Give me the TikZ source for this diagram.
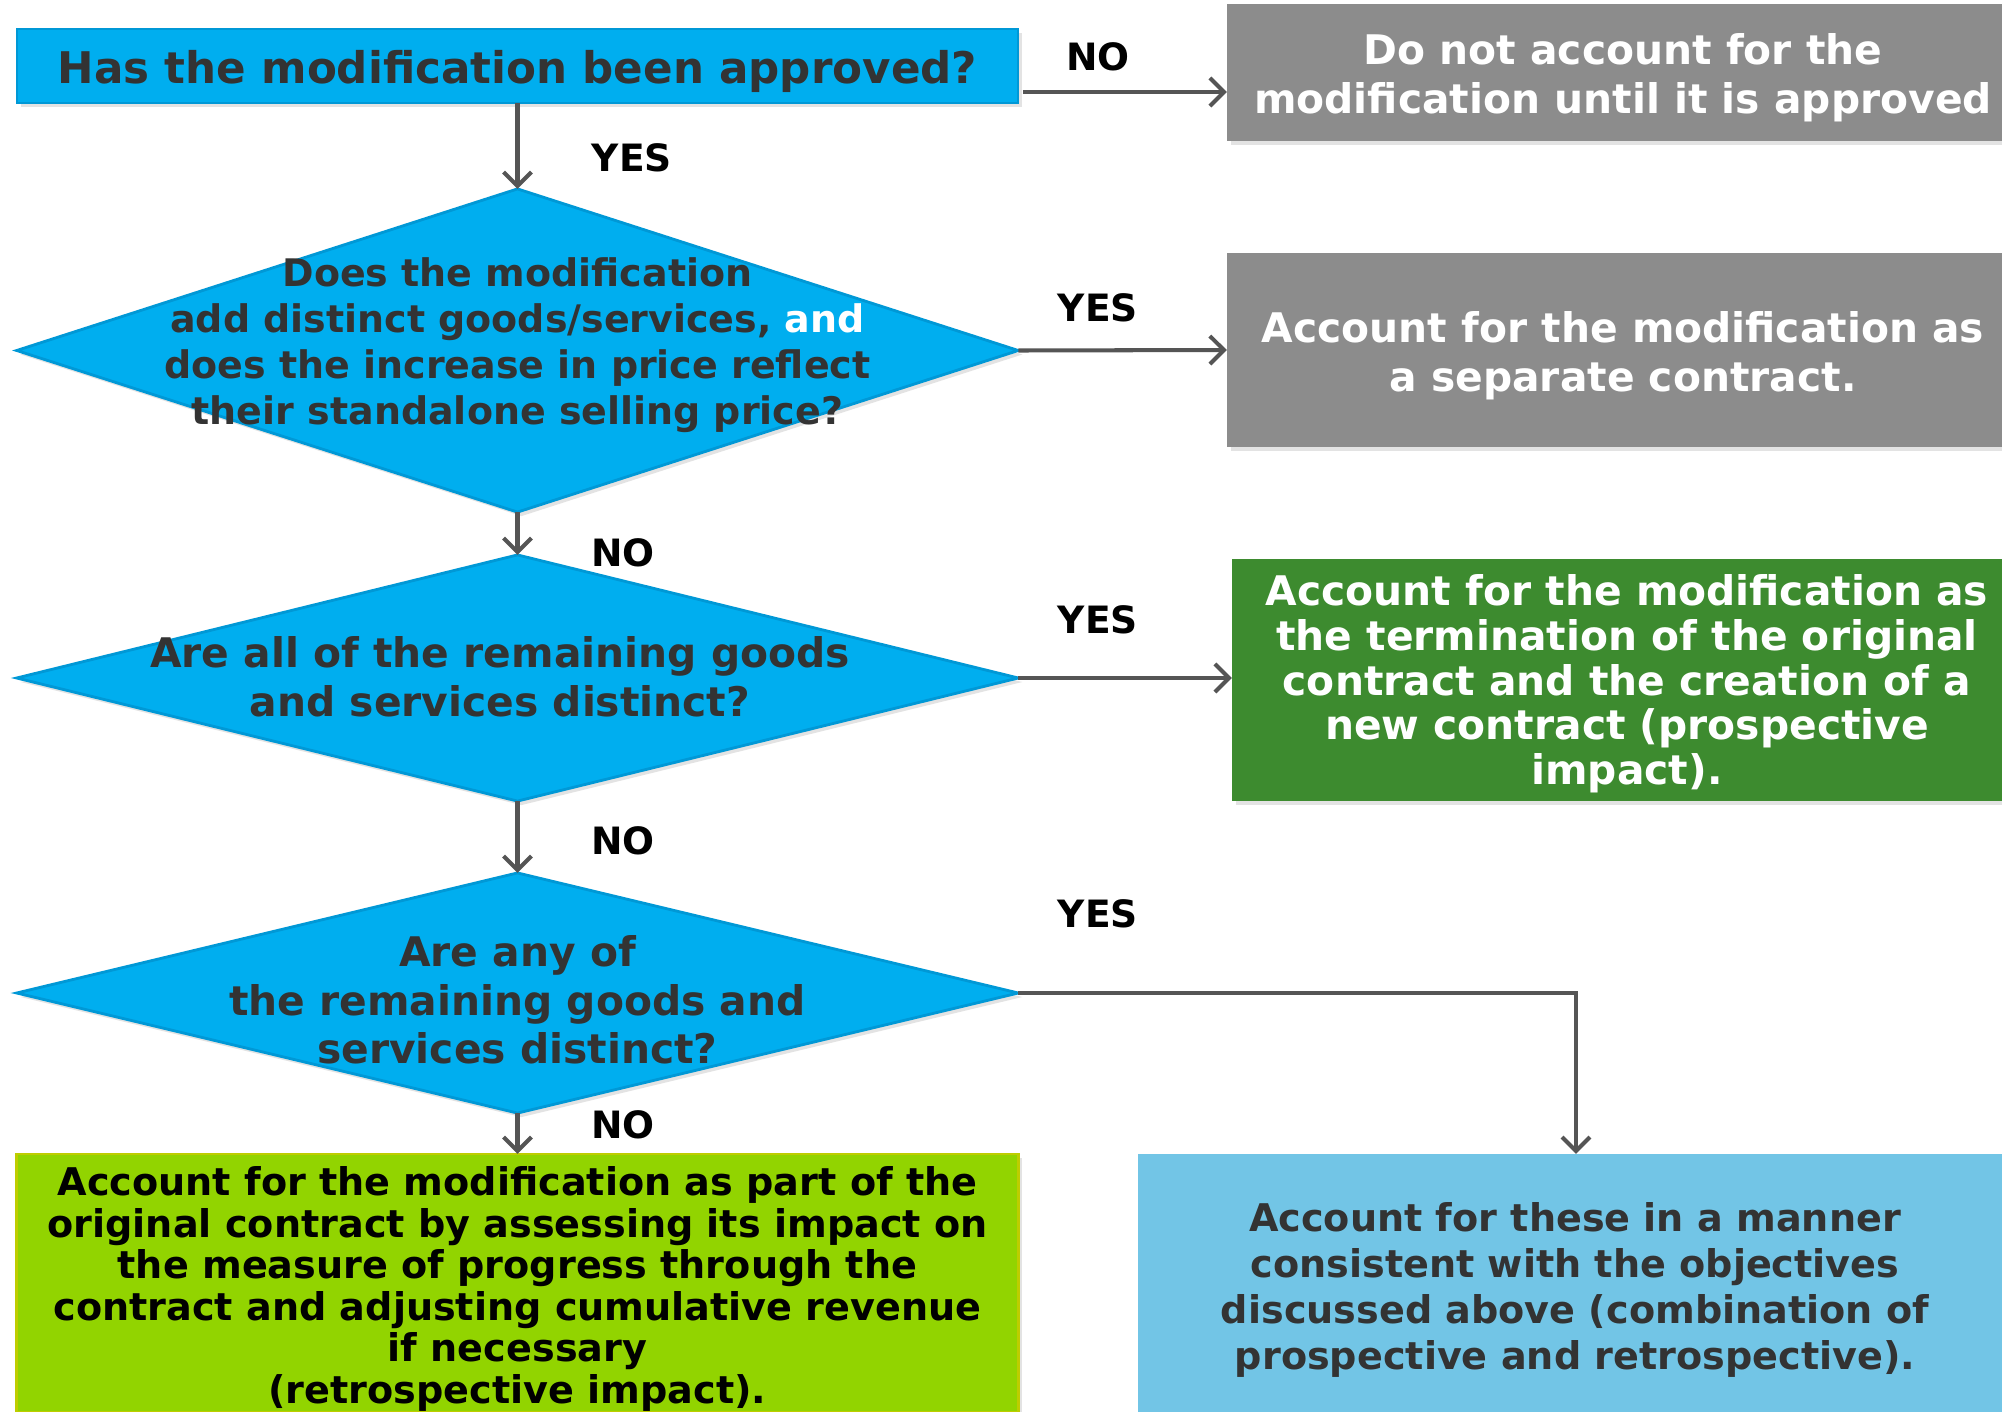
\documentclass[tikz,border=0pt]{standalone}
\usepackage{fontspec}
\setmainfont{DejaVu Sans}
\usetikzlibrary{shapes.geometric, arrows.meta, calc, shadows}

\definecolor{qcyan}{RGB}{0,174,239}
\definecolor{qedge}{RGB}{0,152,214}
\definecolor{boxgray}{RGB}{140,140,140}
\definecolor{boxgreen}{RGB}{61,139,47}
\definecolor{boxlime}{RGB}{146,212,0}
\definecolor{limeedge}{RGB}{190,205,0}
\definecolor{boxsky}{RGB}{114,197,230}
\definecolor{txtdark}{RGB}{51,51,51}
\definecolor{arrgray}{RGB}{85,85,85}

\newcommand{\setfs}[2]{\fontsize{#1}{#2}\selectfont\bfseries}

\tikzset{
  softshadow/.style={drop shadow={opacity=0.22, shadow xshift=0.04cm, shadow yshift=-0.04cm}},
  qbox/.style={rectangle, inner sep=0pt, outer sep=0pt, fill=qcyan, draw=qedge,
    line width=0.6pt, softshadow},
  dia/.style={diamond, inner sep=0pt, outer sep=0pt, fill=qcyan, draw=qedge,
    line width=0.8pt, softshadow},
  qtext/.style={inner sep=0pt, text=txtdark, align=center},
  obox/.style={rectangle, inner sep=0pt, outer sep=0pt, softshadow},
  otext/.style={inner sep=0pt, align=center},
  arr/.style={draw=arrgray, line width=1.15pt,
    -{Straight Barb[length=1.4mm, width=2.8mm, line width=1.15pt]}},
  lbl/.style={inner sep=0pt, text=black, font=\setfs{10.7}{12}},
}

\begin{document}
\begin{tikzpicture}[x=0.01cm, y=-0.01cm]
\useasboundingbox (0,0) rectangle (2002,1412);
\fill[white] (0,0) rectangle (2002,1412);

% decision column
\node[qbox, minimum width=10.01cm, minimum height=0.74cm] (q0) at (517.5,66) {};
\node[qtext, font=\setfs{12.4}{15}] (t0) at (517.5,71) {Has the modification been approved?};

\node[dia, minimum width=10.01cm, minimum height=3.23cm] (q1) at (517.5,350.5) {};
\node[qtext, font=\setfs{10.8}{13.1}] (t1) at (517.5,345)
  {Does the modification\\add distinct goods/services, \textcolor{white}{and}\\does the increase in price reflect\\their standalone selling price?};

\node[dia, minimum width=10.01cm, minimum height=2.46cm] (q2) at (517.5,678) {};
\node[qtext, font=\setfs{11.6}{13.8}] (t2) at (500,677)
  {Are all of the remaining goods\\and services distinct?};

\node[dia, minimum width=10.01cm, minimum height=2.40cm] (q3) at (517.5,993) {};
\node[qtext, font=\setfs{11.6}{13.8}] (t3) at (517.5,1000)
  {Are any of\\the remaining goods and\\services distinct?};

% outcomes
\node[obox, fill=boxgray, minimum width=7.75cm, minimum height=1.36cm] (r0) at (1614.5,72.5) {};
\node[otext, text=white, font=\setfs{11.6}{13.8}] (s0) at (1623,78)
  {Do not account for the\\modification until it is approved};

\node[obox, fill=boxgray, minimum width=7.75cm, minimum height=1.94cm] (r1) at (1614.5,350) {};
\node[otext, text=white, font=\setfs{11.6}{13.8}] (s1) at (1623,356)
  {Account for the modification as\\a separate contract.};

\node[obox, fill=boxgreen, minimum width=7.70cm, minimum height=2.42cm] (r2) at (1617,680) {};
\node[otext, text=white, font=\setfs{11.6}{12.7}] (s2) at (1627,684)
  {Account for the modification as\\the termination of the original\\contract and the creation of a\\new contract (prospective\\impact).};

\node[obox, fill=boxlime, draw=limeedge, line width=0.8pt,
  minimum width=10.01cm, minimum height=2.58cm] (r3) at (517.5,1283) {};
\node[otext, text=black, font=\setfs{10.85}{11.8}] (s3) at (517.5,1289)
  {Account for the modification as part of the\\original contract by assessing its impact on\\the measure of progress through the\\contract and adjusting cumulative revenue\\if necessary\\(retrospective impact).};

\node[obox, fill=boxsky, minimum width=8.64cm, minimum height=2.58cm] (r4) at (1570,1283) {};
\node[otext, text=txtdark, font=\setfs{10.85}{13.1}] (s4) at (1575,1290)
  {Account for these in a manner\\consistent with the objectives\\discussed above (combination of\\prospective and retrospective).};

% connectors
\coordinate (a0) at ($(q0.east)+(5,26)$);
\draw[arr] (a0) -- (r0.west |- a0);
\draw[arr] (q0.south) -- (q1.north);
\draw[arr] (q1.east) -- (r1.west);
\draw[arr] (q1.south) -- (q2.north);
\draw[arr] (q2.east) -- (r2.west |- q2.east);
\draw[arr] (q2.south) -- (q3.north);
\coordinate (bend) at (1576,993);
\draw[arr] (q3.east) -- (bend) -- (bend |- r4.north);
\draw[arr] (q3.south) -- (r3.north);

% branch labels
\node[lbl] (l0) at (1098,57) {NO};
\node[lbl] (l1) at (632,158) {YES};
\node[lbl] (l2) at (1098,308) {YES};
\node[lbl] (l3) at (623,553) {NO};
\node[lbl] (l4) at (1098,620) {YES};
\node[lbl] (l5) at (623,841) {NO};
\node[lbl] (l6) at (1098,914) {YES};
\node[lbl] (l7) at (623,1125) {NO};
\end{tikzpicture}
\end{document}
